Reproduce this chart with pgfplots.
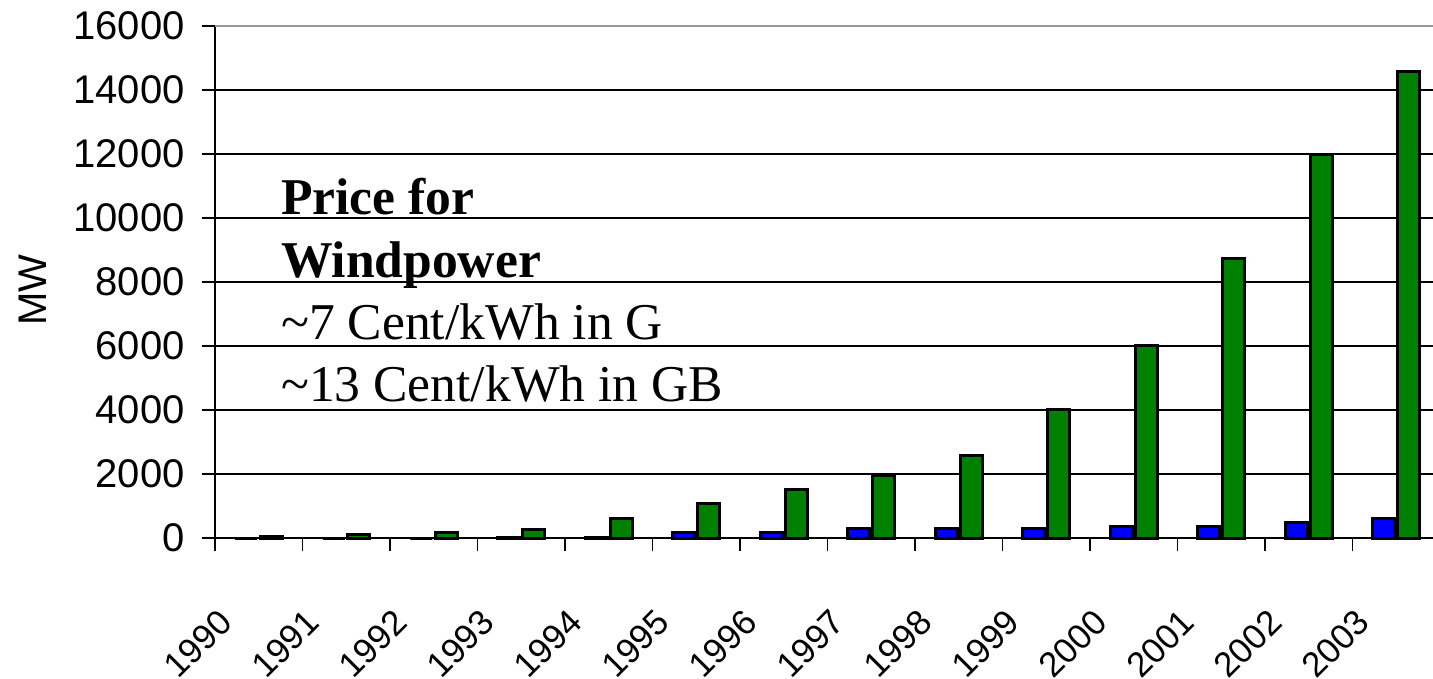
\documentclass[border=0pt]{standalone}
\usepackage{pgfplots}
\pgfplotsset{compat=1.18}
\usepackage{fontspec}
\setmainfont{Liberation Sans}
\newfontfamily\tnr{Liberation Serif}
\definecolor{barblue}{HTML}{0000FF}
\definecolor{bargreen}{HTML}{008000}
\begin{document}
\begin{tikzpicture}
\begin{axis}[
  scale only axis,
  width=612.5pt, height=256pt,
  at={(0,0)}, anchor=south west,
  xmin=-0.5, xmax=13.5,
  ymin=0, ymax=16000,
  axis x line=bottom, axis y line=left,
  axis line style={-, black, line width=1pt},
  xtick={-0.5,0.5,...,13.5},
  x tick label as interval,
  xticklabels={1990,1991,1992,1993,1994,1995,1996,1997,1998,1999,2000,2001,2002,2003},
  ytick={0,2000,...,16000},
  scaled y ticks=false,
  tick align=outside,
  major tick length=6.5pt,
  tick style={black, line width=0.8pt},
  ymajorgrids,
  major grid style={black, line width=0.6pt},
  /pgf/number format/1000 sep={},
  /pgf/number format/assume math mode=true,
  tick label style={font=\fontsize{20}{24}\selectfont},
  xticklabel style={font=\fontsize{17.5}{21}\selectfont, anchor=north east, inner sep=0pt, xshift=-21pt, yshift=-28pt, rotate=45},
  yticklabel style={inner sep=0pt, xshift=-8.5pt},
  ylabel={MW},
  every axis y label/.style={at={(axis description cs:-0.1486,0.484)}, rotate=90, anchor=center, font=\fontsize{20}{24}\selectfont},
  clip=false,
]
\addplot[ybar, bar width=11pt, bar shift=-6.25pt, fill=barblue, draw=black, line width=1.5pt]
  coordinates {(0,0) (1,0) (2,0) (3,20) (4,30) (5,170) (6,170) (7,300) (8,300) (9,300) (10,360) (11,360) (12,470) (13,610)};
\addplot[ybar, bar width=11pt, bar shift=6.25pt, fill=bargreen, draw=black, line width=1.5pt]
  coordinates {(0,50) (1,100) (2,170) (3,280) (4,600) (5,1080) (6,1530) (7,1950) (8,2580) (9,4030) (10,6030) (11,8720) (12,11990) (13,14570)};
\draw[gray!80, line width=1pt] (rel axis cs:0,1) -- (rel axis cs:1,1);
\node[anchor=base west, inner sep=0pt, font=\tnr\bfseries\fontsize{25.8}{30}\selectfont] at (axis cs:0.251,10094) {Price for};
\node[anchor=base west, inner sep=0pt, font=\tnr\bfseries\fontsize{25.8}{30}\selectfont] at (axis cs:0.251,8125) {Windpower};
\node[anchor=base west, inner sep=0pt, font=\tnr\fontsize{25.8}{30}\selectfont] at (axis cs:0.251,6188) {\textasciitilde 7 Cent/kWh in G};
\node[anchor=base west, inner sep=0pt, font=\tnr\fontsize{25.8}{30}\selectfont] at (axis cs:0.251,4250) {\textasciitilde 13 Cent/kWh in GB};
\end{axis}
\pgfresetboundingbox
\useasboundingbox (-107.5pt,-70.5pt) rectangle (609pt,269pt);
\end{tikzpicture}
\end{document}
